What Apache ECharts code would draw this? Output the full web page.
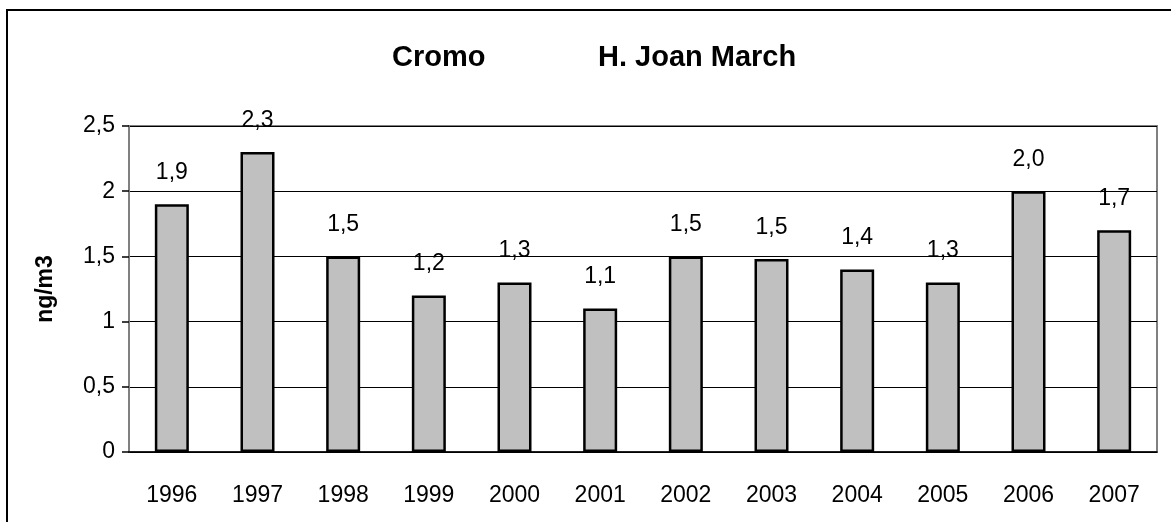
<html>

<head>
    <script src="https://cdn.jsdelivr.net/npm/echarts@6/dist/echarts.min.js"></script>
    <style>
        html, body {
            margin: 0;
            padding: 0;
            background: #fff;
        }
        #chart {
            width: 1171px;
            height: 522px;
        }
    </style>
</head>

<body>
    <div id="chart"></div>
    <script>
        var years = ['1996', '1997', '1998', '1999', '2000', '2001', '2002', '2003', '2004', '2005', '2006', '2007'];
        var cromo = [1.9, 2.3, 1.5, 1.2, 1.3, 1.1, 1.5, 1.48, 1.4, 1.3, 2.0, 1.7];
        var yTicks = [0, 0.5, 1, 1.5, 2, 2.5];

        var font = 'Liberation Sans, Arial, sans-serif';

        function comma(v) {
            return String(v).replace('.', ',');
        }

        var myChart = echarts.init(document.getElementById('chart'));
        var option = {
            animation: false,
            title: [{
                text: 'Cromo',
                left: 387,
                top: 28,
                textStyle: { color: '#000', fontFamily: font, fontSize: 29, fontWeight: 'bold' }
            }, {
                text: 'H. Joan March',
                left: 593,
                top: 28,
                textStyle: { color: '#000', fontFamily: font, fontSize: 29, fontWeight: 'bold' }
            }],
            // marco exterior
            graphic: [{
                type: 'rect',
                shape: { x: 7, y: 10, width: 1200, height: 600 },
                style: { fill: 'none', stroke: '#000', lineWidth: 2 },
                silent: true
            }],
            grid: {
                left: 129,
                right: 14,
                top: 126,
                bottom: 70,
                show: true,
                borderColor: '#808080',
                borderWidth: 2
            },
            xAxis: {
                type: 'category',
                data: years,
                axisLine: { lineStyle: { color: '#000', width: 1.5 } },
                axisTick: { length: 8, lineStyle: { color: '#000', width: 1.5 } },
                axisLabel: { color: '#000', fontFamily: font, fontSize: 23, margin: 24 }
            },
            yAxis: {
                type: 'value',
                min: yTicks[0],
                max: yTicks[yTicks.length - 1],
                interval: 0.5,
                name: 'ng/m3',
                nameLocation: 'middle',
                nameGap: 64,
                nameTextStyle: { color: '#000', fontFamily: font, fontSize: 23, fontWeight: 'bold' },
                axisLine: { show: true, lineStyle: { color: '#808080', width: 2 } },
                axisTick: { show: true, length: 7, lineStyle: { color: '#000', width: 1.5 } },
                axisLabel: {
                    color: '#000', fontFamily: font, fontSize: 23, margin: 14,
                    formatter: function (v) { return comma(v); }
                },
                splitLine: { show: true, lineStyle: { color: '#000', width: 1 } }
            },
            series: [{
                type: 'bar',
                data: cromo,
                barWidth: 34,
                itemStyle: { color: '#C0C0C0', borderColor: '#000', borderWidth: 2.5 },
                label: {
                    show: true,
                    position: 'top',
                    distance: 12,
                    color: '#000',
                    fontFamily: font,
                    fontSize: 23,
                    formatter: function (p) { return comma(p.value.toFixed(1)); }
                }
            }]
        };

        myChart.setOption(option);
        window.onresize = myChart.resize;
    </script>
</body>

</html>
